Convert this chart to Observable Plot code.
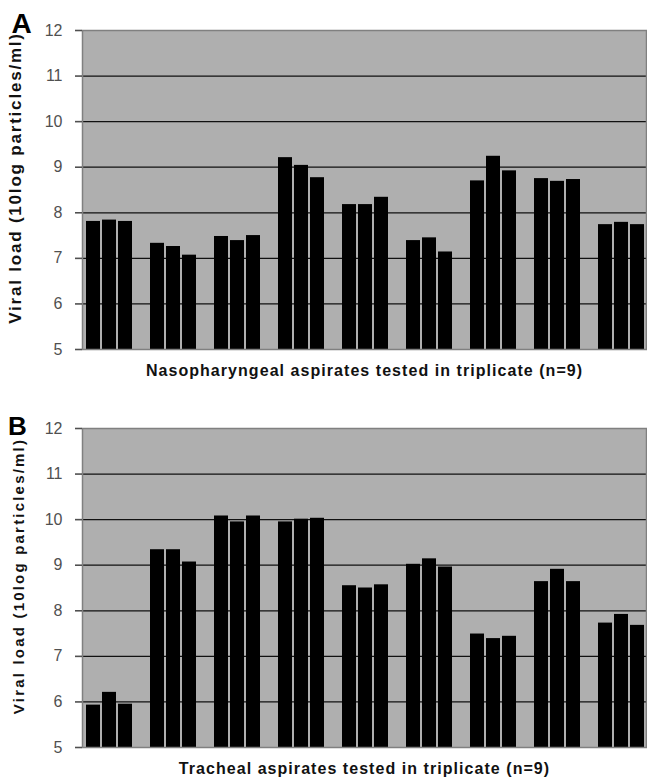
<!DOCTYPE html>
<html><head><meta charset="utf-8">
<script src="https://cdn.jsdelivr.net/npm/d3@7"></script>
<script src="https://cdn.jsdelivr.net/npm/@observablehq/plot@0.6"></script>
<style>
body{margin:0;background:#fff;overflow:hidden}
#chart svg{display:block}
</style>
</head><body><div id="chart"></div>
<script>
// ---- data ----
const groups = ["1","2","3","4","5","6","7","8","9"];
const yTicks = [5,6,7,8,9,10,11,12];
const yTitle = "Viral load (10log particles/ml)";

const nasoTitle = "Nasopharyngeal aspirates tested in triplicate (n=9)";
const nasoRep1 = [7.81, 7.33, 7.48, 9.21, 8.18, 7.39, 8.70, 8.75, 7.74];
const nasoRep2 = [7.84, 7.26, 7.39, 9.04, 8.18, 7.45, 9.24, 8.69, 7.79];
const nasoRep3 = [7.81, 7.07, 7.50, 8.77, 8.34, 7.14, 8.92, 8.73, 7.74];

const trachTitle = "Tracheal aspirates tested in triplicate (n=9)";
const trachRep1 = [5.93, 9.34, 10.08, 9.95, 8.55, 9.02, 7.49, 8.64, 7.73];
const trachRep2 = [6.21, 9.34, 9.95, 10.01, 8.50, 9.14, 7.39, 8.91, 7.92];
const trachRep3 = [5.95, 9.07, 10.08, 10.03, 8.57, 8.96, 7.44, 8.64, 7.68];

function rows(reps) {
  const out = [];
  reps.forEach((arr, r) => arr.forEach((v, i) => out.push({group: groups[i], rep: r, value: v})));
  return out;
}

const repInsets = [[0, 32], [16, 16], [32, 0]];

function panel(o) {
  const data = rows(o.reps);
  const font = "'Liberation Sans', Arial, sans-serif";
  const svg = Plot.plot({
    width: 647,
    height: o.height,
    marginTop: o.marginTop,
    marginBottom: o.marginBottom,
    marginLeft: 82,
    marginRight: 1,
    style: {fontFamily: font, background: "#fff", overflow: "hidden"},
    x: {type: "band", domain: groups, range: [82.3, 648], paddingInner: 0.277, paddingOuter: 0, axis: null},
    y: {domain: [yTicks[0], yTicks[yTicks.length - 1]], axis: null},
    marks: [
      Plot.frame({fill: "#afafaf"}),
      Plot.ruleY(yTicks.slice(1, -1), {stroke: "#111", strokeWidth: 1.2}),
      ...repInsets.map(([l, r], k) => Plot.barY(data.filter(d => d.rep === k), {
        x: "group", y1: () => yTicks[0], y2: "value",
        fill: "#000", insetLeft: l, insetRight: r, clip: true
      })),
      Plot.frame({stroke: "#808080", strokeWidth: 1.5}),
      Plot.axisY({ticks: yTicks, tickSize: 7, tickPadding: 13, fontSize: 16, color: "#505050", line: true, strokeWidth: 1.6, label: null, tickFormat: d => d}),
      Plot.text([o.letter], {frameAnchor: "top-left", dx: o.letterDx, dy: o.letterDy, fontSize: o.letterSize, fontWeight: "bold", fill: "#000", textAnchor: "middle", lineAnchor: "middle"}),
      Plot.text([yTitle], {frameAnchor: "left", rotate: -90, dx: o.yDx, dy: o.yDy, fontSize: o.yFont, fontWeight: "bold", fill: "#111", textAnchor: "middle", lineAnchor: "middle"}),
      Plot.text([o.title], {frameAnchor: "bottom", dy: o.xDy, fontSize: 16, fontWeight: "bold", fill: "#111", textAnchor: "middle", lineAnchor: "middle"})
    ]
  });
  const s = d3.select(svg);
  s.selectAll("text").filter(function() { return this.textContent === yTitle; }).style("letter-spacing", o.ySpacing);
  s.selectAll("text").filter(function() { return this.textContent === o.title; }).style("letter-spacing", "1.05px");
  return svg;
}

const root = document.getElementById("chart");
root.append(panel({
  letter: "A", title: nasoTitle, reps: [nasoRep1, nasoRep2, nasoRep3],
  height: 385, marginTop: 30, marginBottom: 36, letterSize: 28,
  letterDx: -61, letterDy: -6, yDx: -67, yDy: -12, yFont: 17, ySpacing: "1.8px", xDy: 21
}));
root.append(panel({
  letter: "B", title: trachTitle, reps: [trachRep1, trachRep2, trachRep3],
  height: 393, marginTop: 43, marginBottom: 31, letterSize: 26,
  letterDx: -65, letterDy: -2, yDx: -63.5, yDy: -12, yFont: 15, ySpacing: "2.2px", xDy: 21
}));
</script>
</body></html>
